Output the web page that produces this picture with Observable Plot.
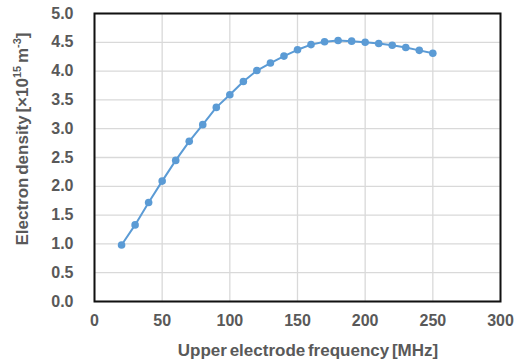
<!DOCTYPE html>
<html>
<head>
<meta charset="utf-8">
<script src="https://cdn.jsdelivr.net/npm/d3@7"></script>
<script src="https://cdn.jsdelivr.net/npm/@observablehq/plot@0.6"></script>
<style>
  html, body { margin: 0; padding: 0; background: #fff; }
  svg { font-family: "Liberation Sans", Arial, sans-serif; }
</style>
</head>
<body>
<div id="chart"></div>
<script>
const frequency = [20, 30, 40, 50, 60, 70, 80, 90, 100, 110, 120, 130, 140, 150, 160, 170, 180, 190, 200, 210, 220, 230, 240, 250];
const density = [0.98, 1.33, 1.72, 2.09, 2.45, 2.78, 3.07, 3.37, 3.59, 3.82, 4.01, 4.14, 4.26, 4.37, 4.46, 4.51, 4.53, 4.52, 4.50, 4.48, 4.45, 4.41, 4.36, 4.31];
const xTicks = [0, 50, 100, 150, 200, 250, 300];
const yTicks = [0, 0.5, 1, 1.5, 2, 2.5, 3, 3.5, 4, 4.5, 5];
const xLabel = "Upper electrode frequency [MHz]";

const data = frequency.map((f, i) => ({f, n: density[i]}));

const plot = Plot.plot({
  width: 518,
  height: 362,
  marginLeft: 94,
  marginRight: 18,
  marginTop: 13,
  marginBottom: 61,
  style: {fontFamily: "Liberation Sans, Arial, sans-serif", fontSize: "16px", fontWeight: "bold", color: "#595959", background: "#fff"},
  x: {domain: [0, 300], ticks: xTicks, tickFormat: d => d3.format("d")(d), label: null, tickSize: 0, tickPadding: 13},
  y: {domain: [0, 5], ticks: yTicks, tickFormat: d => d.toFixed(1), label: null, tickSize: 0, tickPadding: 21},
  marks: [
    Plot.gridX(xTicks, {stroke: "#d9d9d9", strokeOpacity: 1, strokeWidth: 1.3}),
    Plot.gridY(yTicks, {stroke: "#d9d9d9", strokeOpacity: 1, strokeWidth: 1.3}),
    Plot.frame({stroke: "#111", strokeWidth: 2}),
    Plot.line(data, {x: "f", y: "n", stroke: "#5B9BD5", strokeWidth: 2}),
    Plot.dot(data, {x: "f", y: "n", fill: "#5B9BD5", r: 3.8}),
    Plot.axisX({ticks: xTicks, tickFormat: d => d3.format("d")(d), tickSize: 0, tickPadding: 13, label: null, fill: "#595959", fontSize: 16}),
    Plot.axisY({ticks: yTicks, tickFormat: d => d.toFixed(1), tickSize: 0, tickPadding: 21, label: null, fill: "#595959", fontSize: 16})
  ]
});

const svg = d3.select(plot);
// x-axis title
svg.append("text")
  .attr("x", 308).attr("y", 356)
  .attr("text-anchor", "middle")
  .attr("fill", "#595959")
  .attr("font-size", 17).attr("font-weight", "bold")
  .attr("word-spacing", -2)
  .text(xLabel);
// y-axis title with superscripts
const yt = svg.append("text")
  .attr("transform", "translate(28,139) rotate(-90)")
  .attr("text-anchor", "middle")
  .attr("fill", "#595959")
  .attr("font-size", 17).attr("font-weight", "bold")
  .attr("word-spacing", -2);
yt.append("tspan").text("Electron density [×10");
yt.append("tspan").attr("font-size", 11).attr("dy", -7).text("15");
yt.append("tspan").attr("dy", 7).text(" m");
yt.append("tspan").attr("font-size", 11).attr("dy", -7).text("-3");
yt.append("tspan").attr("dy", 7).text("]");

document.getElementById("chart").appendChild(plot);
</script>
</body>
</html>
